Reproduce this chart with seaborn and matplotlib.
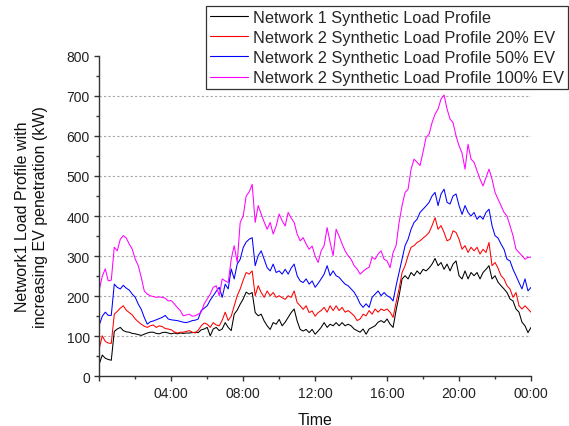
import numpy as np
import pandas as pd
import seaborn as sns
import matplotlib
matplotlib.use("Agg")
import matplotlib.pyplot as plt
from matplotlib.ticker import MultipleLocator, FuncFormatter

# Load readings every 10 minutes from 00:00 to 24:00 (kW)
hours = [i / 6 for i in range(145)]

network1 = [
    31, 53, 45, 42, 40, 112,
    118, 122, 114, 111, 110, 107,
    106, 104, 102, 105, 108, 110,
    110, 107, 106, 109, 110, 108,
    106, 108, 106, 108, 107, 108,
    108, 109, 110, 109, 116, 118,
    122, 101, 118, 122, 114, 118,
    134, 122, 114, 155, 165, 180,
    193, 210, 205, 209, 159, 151,
    155, 138, 126, 117, 134, 130,
    142, 126, 135, 147, 159, 168,
    138, 117, 113, 117, 109, 117,
    105, 113, 122, 134, 122, 130,
    126, 134, 126, 134, 126, 130,
    126, 118, 114, 110, 118, 105,
    118, 122, 126, 135, 139, 134,
    143, 130, 122, 165, 201, 243,
    251, 243, 259, 251, 263, 255,
    267, 263, 270, 280, 294, 276,
    284, 267, 280, 263, 280, 288,
    251, 243, 263, 243, 259, 251,
    259, 243, 259, 267, 276, 243,
    251, 235, 226, 218, 209, 193,
    188, 168, 160, 135, 126, 109,
    122,
]

ev20 = [
    70, 101, 87, 83, 82, 155,
    162, 170, 176, 165, 159, 153,
    143, 136, 130, 125, 122, 126,
    128, 122, 126, 124, 119, 118,
    116, 111, 108, 110, 110, 112,
    114, 110, 108, 115, 126, 133,
    130, 122, 134, 128, 126, 140,
    160, 139, 150, 176, 201, 218,
    240, 259, 255, 263, 201, 226,
    209, 197, 213, 201, 209, 197,
    201, 196, 192, 201, 197, 213,
    184, 176, 167, 176, 159, 163,
    150, 159, 164, 172, 160, 176,
    164, 176, 164, 172, 160, 164,
    158, 151, 139, 143, 155, 151,
    164, 155, 168, 160, 168, 164,
    168, 160, 147, 184, 218, 259,
    276, 301, 322, 326, 334, 338,
    345, 351, 359, 376, 396, 367,
    376, 359, 338, 342, 363, 359,
    342, 317, 326, 309, 322, 313,
    322, 305, 317, 309, 334, 276,
    284, 270, 251, 243, 226, 218,
    197, 209, 176, 168, 176, 168,
    160,
]

ev50 = [
    128, 150, 160, 152, 152, 230,
    222, 218, 227, 220, 215, 205,
    197, 180, 167, 147, 130, 136,
    138, 141, 144, 147, 152, 143,
    141, 140, 139, 137, 135, 134,
    136, 139, 140, 143, 164, 170,
    176, 190, 201, 212, 222, 197,
    230, 218, 268, 243, 280, 292,
    321, 335, 342, 346, 276, 301,
    313, 292, 271, 263, 280, 259,
    263, 255, 267, 255, 270, 280,
    251, 238, 234, 243, 230, 238,
    222, 232, 243, 255, 276, 251,
    263, 251, 247, 238, 230, 226,
    218, 210, 197, 181, 172, 181,
    172, 197, 205, 213, 201, 209,
    201, 197, 188, 226, 259, 292,
    326, 342, 367, 384, 392, 409,
    417, 425, 434, 450, 459, 426,
    455, 467, 434, 430, 450, 455,
    426, 404, 426, 409, 400, 409,
    392, 400, 392, 409, 417, 376,
    351, 345, 330, 317, 292, 288,
    267, 251, 234, 218, 243, 213,
    222,
]

ev100 = [
    216, 250, 268, 238, 240, 322,
    313, 342, 351, 345, 330, 317,
    292, 276, 247, 213, 205, 201,
    199, 197, 198, 197, 195, 188,
    189, 181, 172, 164, 151, 153,
    155, 150, 151, 155, 160, 181,
    193, 205, 222, 226, 201, 243,
    238, 234, 292, 326, 284, 384,
    400, 450, 460, 479, 384, 426,
    405, 385, 367, 384, 355, 375,
    405, 388, 375, 409, 395, 384,
    355, 338, 346, 330, 317, 325,
    300, 284, 313, 326, 371, 334,
    301, 367, 350, 330, 313, 301,
    292, 276, 268, 255, 262, 268,
    272, 297, 292, 305, 313, 292,
    288, 271, 309, 326, 384, 426,
    459, 467, 517, 542, 534, 526,
    560, 596, 604, 633, 654, 667,
    692, 702, 667, 642, 633, 600,
    575, 557, 517, 579, 542, 534,
    513, 492, 475, 496, 517, 492,
    459, 442, 426, 409, 400, 376,
    351, 317, 309, 301, 292, 297,
    297,
]

series_names = [
    "Network 1 Synthetic Load Profile",
    "Network 2 Synthetic Load Profile 20% EV",
    "Network 2 Synthetic Load Profile 50% EV",
    "Network 2 Synthetic Load Profile 100% EV",
]
series_values = [network1, ev20, ev50, ev100]
series_colors = ["#000000", "#ff0000", "#0000ff", "#ff00ff"]

frames = [
    pd.DataFrame({"hour": hours, "load": vals, "series": name})
    for name, vals in zip(series_names, series_values)
]
df = pd.concat(frames, ignore_index=True)

sns.set_style("ticks")
plt.rcParams["font.family"] = ["Liberation Sans", "DejaVu Sans"]

fig = plt.figure(figsize=(5.69, 4.27), dpi=100)
ax = fig.add_axes([0.1745, 0.1164, 0.7587, 0.7508])

sns.lineplot(
    data=df, x="hour", y="load", hue="series",
    hue_order=series_names, palette=series_colors,
    estimator=None, linewidth=0.75, ax=ax,
)

# Horizontal reference lines
for yv in range(100, 800, 100):
    ax.axhline(yv, color="#a8a8a8", linewidth=0.8, linestyle=(0, (2, 2)), zorder=0)

ax.set_xlim(0, 24)
ax.set_ylim(0, 800)
ax.xaxis.set_major_locator(MultipleLocator(4))
ax.xaxis.set_minor_locator(MultipleLocator(2))
ax.yaxis.set_major_locator(MultipleLocator(100))
ax.yaxis.set_minor_locator(MultipleLocator(50))


def hour_label(v, pos):
    if v <= 0:
        return ""
    return f"{int(round(v)) % 24:02d}:00"


ax.xaxis.set_major_formatter(FuncFormatter(hour_label))

for side in ("top", "right"):
    ax.spines[side].set_visible(False)
for side in ("left", "bottom"):
    ax.spines[side].set_color("#333333")
    ax.spines[side].set_linewidth(1.0)

ax.tick_params(axis="both", which="major", direction="out", length=3.6,
               width=1.0, color="#333333", labelsize=10, labelcolor="#222222", pad=3.2)
ax.tick_params(axis="both", which="minor", direction="out", length=2.2,
               width=1.0, color="#333333")

ax.set_xlabel("Time", fontsize=11.5, color="#111111", labelpad=9)
ax.set_ylabel("Network1 Load Profile with\nincreasing EV penetration (kW)",
              fontsize=11.5, color="#111111", labelpad=13, linespacing=1.25)

handles, labels = ax.get_legend_handles_labels()
leg = ax.legend(
    handles, labels,
    loc="upper right", bbox_to_anchor=(568 / 569, 1 - 7 / 427),
    bbox_transform=fig.transFigure, borderaxespad=0,
    fontsize=11.8, frameon=True, fancybox=False, shadow=False,
    handlelength=2.3, handletextpad=0.35, labelspacing=0.32, borderpad=0.22,
)
leg.get_frame().set_edgecolor("#333333")
leg.get_frame().set_linewidth(0.9)
leg.get_frame().set_facecolor("white")
leg.get_frame().set_alpha(1.0)
for line in leg.get_lines():
    line.set_linewidth(0.8)

fig.savefig("out.png", dpi=100)
